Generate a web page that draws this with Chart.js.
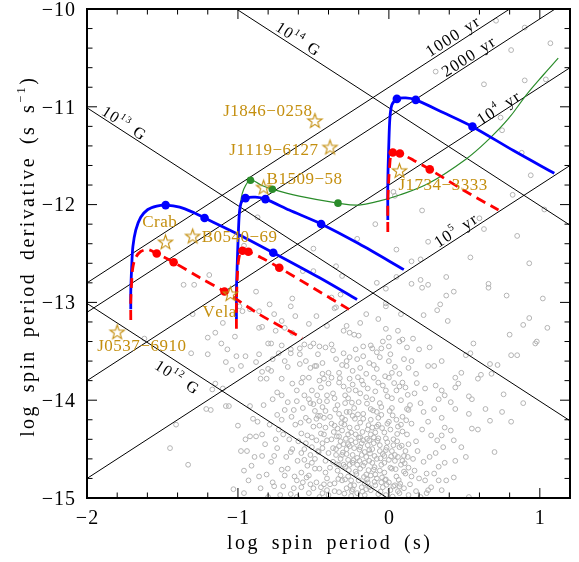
<!DOCTYPE html>
<html>
<head>
<meta charset="utf-8">
<script src="https://cdn.jsdelivr.net/npm/chart.js@4.4.1/dist/chart.umd.min.js"></script>
<style>
  html, body { margin: 0; padding: 0; background: #fff; }
  canvas { display: block; }
</style>
</head>
<body>
<canvas id="ppdot" width="579" height="562"></canvas>
<script>
// axis ranges and ticks
const X_MIN = -2, X_MAX = 1.2, Y_MIN = -15, Y_MAX = -10;
const xMajorTicks = [-2, -1, 0, 1];
const xTickLabels = ['\u22122', '\u22121', '0', '1'];
const yMajorTicks = [-15, -14, -13, -12, -11, -10];
const yTickLabels = ['\u221215', '\u221214', '\u221213', '\u221212', '\u221211', '\u221210'];

// constant field and characteristic age lines
const fieldLogB = [12, 13, 14];
const ageYears = [1000, 2000, 1e4, 1e5];

// pulsar population (log P, log Pdot)
const pulsars = [
  [0.71,-10.12],[0.90,-10.19],[1.07,-10.35],[0.81,-10.42],[0.31,-10.64],[0.63,-10.77],[0.90,-10.73],[1.04,-10.72],
  [0.74,-11.11],[0.75,-11.24],[0.88,-11.47],[0.94,-11.70],[0.82,-11.90],[0.03,-11.87],[0.04,-11.91],
  [0.22,-12.06],[-0.09,-12.20],[-0.21,-12.35],[0.26,-12.38],[0.05,-12.46],[-0.50,-12.45],[0.15,-12.58],[0.21,-12.56],
  [0.54,-12.54],[0.60,-12.14],[0.63,-12.25],[0.85,-12.32],[1.03,-12.05],[0.93,-12.60],[0.38,-12.74],[0.21,-12.77],
  [0.15,-12.81],[0.26,-12.82],[0.22,-12.85],[0.66,-12.81],[0.66,-12.85],[0.43,-12.89],[0.38,-12.93],[0.78,-12.93],
  [1.02,-12.96],[-0.02,-13.01],[-0.02,-13.04],[-0.08,-12.80],[-0.02,-12.86],[0.05,-12.74],[0.34,-13.02],[0.32,-13.08],
  [0.23,-13.13],[0.39,-13.19],[0.08,-13.12],[-0.07,-13.17],[-0.02,-13.27],[-0.15,-13.12],[-0.19,-13.21],[-0.28,-13.24],
  [-0.35,-13.05],[-0.31,-12.73],[-0.35,-12.63],[-0.50,-12.68],[-0.57,-12.68],[-0.32,-12.92],[-0.38,-12.95],[-0.36,-13.06],
  [-0.48,-13.14],[-0.53,-13.22],[-0.41,-13.24],[-0.30,-13.29],[-0.26,-13.31],[-0.23,-13.33],[0.80,-13.33],[0.93,-13.16],
  [0.89,-13.23],[1.05,-13.26],[0.98,-13.40],[0.56,-13.42],[0.27,-13.46],[0.20,-13.48],[0.09,-13.38],[0.06,-13.29],
  [0.16,-13.37],[0.00,-13.36],[-0.12,-13.44],[-0.17,-13.45],[-0.11,-13.47],[-0.08,-13.51],[-0.05,-13.47],[0.01,-13.53],
  [0.51,-13.54],[0.54,-13.52],[-0.20,-13.34],[-0.59,-13.53],[-0.46,-13.45],[-0.37,-13.49],[-0.26,-13.56],
  [-1.36,-12.82],[-1.29,-12.82],[-1.19,-12.72],[-0.96,-12.42],[-0.87,-12.13],[-0.88,-12.89],[-0.99,-13.04],[-0.97,-13.09],
  [-0.92,-13.07],[-0.86,-13.09],[-0.79,-13.02],[-0.65,-13.04],[-0.64,-12.96],[-0.76,-13.12],[-0.71,-13.19],[-0.86,-13.26],
  [-0.84,-13.25],[-0.75,-13.29],[-0.69,-13.26],[-0.62,-13.14],[-0.64,-13.31],[-1.30,-13.12],[-1.10,-13.21],[-1.15,-13.31],
  [-1.02,-13.35],[-1.20,-13.36],[-1.11,-13.42],[-0.78,-13.42],[-1.62,-13.37],[-1.31,-13.52],[-1.20,-13.53],[-1.07,-13.48],
  [-1.01,-13.55],[-0.95,-13.55],[-0.86,-13.53],[-0.80,-13.42],[-0.71,-13.44],[-0.65,-13.52],[-0.73,-13.52],
  [-1.08,-13.61],[-1.04,-13.69],[-0.98,-13.65],[-0.88,-13.61],[-0.80,-13.68],[-0.78,-13.70],[-0.84,-13.71],[-0.85,-13.78],
  [-0.81,-13.78],[-0.71,-13.78],[-0.65,-13.48],[-0.67,-13.66],[-0.59,-13.63],[-0.49,-13.65],[-0.64,-13.83],[-0.58,-13.82],
  [-0.53,-13.77],[-0.46,-13.80],[-0.43,-13.78],[-1.15,-13.83],[-1.10,-13.88],[-1.17,-13.89],[-1.08,-14.06],[-1.06,-14.06],
  [-1.21,-14.09],[-1.18,-14.10],[-1.41,-14.25],[-1.45,-14.49],[-1.33,-14.66],[-0.90,-14.19],[-0.87,-14.22],[-0.84,-14.35],
  [-1.00,-14.26],[-0.92,-14.37],[-0.88,-14.37],[-0.98,-14.52],[-0.94,-14.52],[-0.84,-14.57],[-0.91,-14.67],[-0.96,-14.72],
  [-0.86,-14.78],[-0.81,-14.76],[-0.77,-14.84],[-1.03,-14.91],[-0.96,-14.95],[-0.80,-14.99],[-0.72,-14.97],[-0.65,-14.96],
  [-0.71,-14.71],[-0.69,-14.77],[-0.76,-14.57],[-0.68,-14.58],[-0.74,-14.49],[-0.64,-14.50],[-0.73,-14.30],[-0.70,-14.35],
  [-0.71,-14.20],[-0.74,-14.15],[-0.77,-13.99],[-0.71,-13.95],[-0.67,-14.02],[-0.69,-14.10],[-0.63,-14.10],[-0.57,-14.08],
  [-0.61,-14.01],[-0.53,-13.99],[-0.46,-14.01],[-0.49,-14.11],[-0.47,-14.16],[-0.43,-14.18],[-0.42,-14.11],[-0.53,-14.21],
  [-0.46,-14.26],[-0.42,-14.28],[-0.45,-14.34],[-0.51,-14.38],[-0.58,-14.34],[-0.55,-14.44],[-0.51,-14.48],[-0.44,-14.49],
  [-0.40,-14.54],[-0.52,-14.56],[-0.56,-14.61],[-0.51,-14.64],[-0.46,-14.70],[-0.42,-14.74],[-0.58,-14.74],[-0.53,-14.77],
  [-0.57,-14.84],[-0.48,-14.84],[-0.45,-14.89],[-0.41,-14.92],[-0.58,-14.89],[-0.53,-14.95],[-0.46,-14.99],[-0.61,-14.99],
  [-0.44,-14.95],[-0.41,-14.80],[-0.61,-14.82],[-0.48,-14.41],[-0.41,-14.41],[-0.41,-14.01],[-0.51,-13.90],[-0.45,-13.87],
  [-0.40,-13.83],[-0.40,-13.72],[-0.44,-13.62],[-0.47,-13.53],[-0.52,-13.45],[-0.42,-13.46],[-0.59,-13.47],[-0.69,-13.60],
  [-0.77,-13.58],
  [-0.56,-13.43],[-0.50,-13.42],[-0.38,-13.43],[0.00,-13.45],[0.07,-13.40],[0.35,-13.60],[0.81,-13.54],[0.85,-13.54],
  [0.97,-13.42],[-0.55,-13.60],[-0.48,-13.65],[-0.57,-13.77],[-0.52,-13.67],[-0.44,-13.73],[-0.38,-13.77],[-0.33,-13.72],
  [-0.28,-13.65],[-0.24,-13.70],[-0.19,-13.67],[-0.15,-13.73],[-0.10,-13.77],[-0.08,-13.68],[0.00,-13.60],[0.00,-13.77],
  [0.07,-13.73],[0.13,-13.67],[0.18,-13.73],[0.26,-13.65],[0.30,-13.65],[0.44,-13.77],[0.48,-13.72],[0.59,-13.78],
  [0.61,-13.74],[0.67,-13.63],[0.72,-13.64],[0.68,-13.73],[0.76,-13.94],[0.75,-14.12],[0.81,-14.22],[0.89,-14.03],
  [0.64,-14.09],[0.67,-14.21],[0.55,-14.29],[0.59,-14.30],[0.70,-14.53],[0.51,-14.58],[0.44,-14.62],[0.48,-14.48],
  [0.43,-14.41],[0.53,-14.14],[0.44,-14.09],[0.41,-14.02],[0.53,-13.96],[0.55,-13.99],[0.44,-13.87],[0.46,-13.83],
  [0.35,-13.90],[0.37,-13.95],[0.31,-13.85],[0.33,-13.99],[0.30,-14.09],[0.35,-14.18],[0.37,-14.28],[0.41,-14.31],
  [0.35,-14.36],[0.32,-14.41],[0.36,-14.48],[0.31,-14.54],[0.37,-14.64],[0.33,-14.68],[0.30,-14.75],[0.33,-14.82],
  [0.38,-14.82],[0.43,-14.79],[0.25,-14.75],[0.24,-14.82],[0.28,-14.89],[0.25,-14.95],[0.35,-14.92],[0.53,-14.99],
  [0.21,-14.99],
  [-0.37,-13.93],[-0.34,-14.05],[-0.30,-13.86],[-0.27,-13.98],[-0.26,-14.12],[-0.22,-13.90],[-0.20,-14.02],[-0.17,-13.84],
  [-0.15,-13.97],[-0.12,-14.09],[-0.09,-13.91],[-0.06,-14.03],[-0.04,-13.85],[-0.01,-13.96],[0.02,-14.08],[0.05,-13.90],
  [0.08,-14.00],[0.11,-13.87],[0.14,-14.05],[0.17,-13.93],[0.21,-14.03],[0.24,-13.88],
  [-0.39,-14.17],[-0.36,-14.26],[-0.33,-14.14],[-0.31,-14.31],[-0.29,-14.20],[-0.26,-14.28],[-0.24,-14.16],[-0.22,-14.35],
  [-0.19,-14.23],[-0.17,-14.14],[-0.14,-14.30],[-0.12,-14.20],[-0.10,-14.38],[-0.07,-14.25],[-0.05,-14.15],[-0.03,-14.33],
  [0.00,-14.22],[0.03,-14.40],[0.06,-14.27],[0.09,-14.17],[0.12,-14.35],[0.15,-14.24],[0.18,-14.42],[0.22,-14.30],[0.26,-14.22],
  [-0.38,-14.40],[-0.35,-14.50],[-0.33,-14.37],[-0.30,-14.45],[-0.28,-14.55],[-0.25,-14.41],[-0.23,-14.49],[-0.21,-14.59],
  [-0.18,-14.44],[-0.16,-14.53],[-0.13,-14.41],[-0.11,-14.50],[-0.08,-14.60],[-0.06,-14.46],[-0.04,-14.55],[-0.01,-14.43],
  [0.02,-14.52],[0.04,-14.62],[0.07,-14.48],[0.10,-14.57],[0.13,-14.45],[0.16,-14.60],[0.19,-14.52],[0.23,-14.63],
  [-0.37,-14.63],[-0.34,-14.72],[-0.32,-14.60],[-0.29,-14.68],[-0.27,-14.78],[-0.24,-14.64],[-0.22,-14.73],[-0.20,-14.82],
  [-0.17,-14.67],[-0.15,-14.76],[-0.13,-14.62],[-0.10,-14.71],[-0.08,-14.80],[-0.05,-14.66],[-0.03,-14.74],[0.00,-14.84],
  [0.02,-14.70],[0.05,-14.78],[0.08,-14.66],[0.11,-14.75],[0.14,-14.86],[0.17,-14.72],[0.20,-14.80],
  [-0.36,-14.85],[-0.33,-14.94],[-0.31,-14.82],[-0.28,-14.90],[-0.25,-14.98],[-0.23,-14.87],[-0.21,-14.95],[-0.18,-14.89],
  [-0.16,-14.97],[-0.14,-14.84],[-0.12,-14.92],[-0.09,-14.87],[-0.07,-14.96],[-0.04,-14.89],[-0.02,-14.97],[0.01,-14.92],
  [0.04,-14.87],[0.07,-14.95],[0.10,-14.90],[0.13,-14.97],[0.18,-14.93],
  [-0.32,-14.42],[-0.27,-14.35],[-0.19,-14.38],[-0.14,-14.46],[-0.09,-14.33],[-0.02,-14.39],[-0.24,-14.56],[-0.11,-14.64],
  [-0.30,-14.66],[-0.06,-14.72],[-0.19,-14.70],[-0.15,-14.58],[-0.26,-14.47],[-0.35,-14.56],[-0.21,-14.28],[-0.28,-14.12],
  [-0.08,-14.12],[0.01,-14.30],[0.06,-14.58],[-0.03,-14.64],[-0.16,-14.85],[-0.25,-14.82],
  [-0.35,-13.58],[-0.31,-13.64],[-0.26,-13.78],[-0.21,-13.58],[-0.13,-13.62],[-0.06,-13.56],[0.04,-13.66],[0.10,-13.58],
  [-0.18,-13.80],[0.09,-13.82],[0.15,-13.60],[-0.30,-13.52],[-0.22,-13.48],[-0.04,-13.40],[0.12,-13.46],
  [-0.355,-14.095],[-0.315,-14.235],[-0.285,-14.395],[-0.245,-14.025],[-0.205,-14.145],[-0.175,-14.325],[-0.135,-14.255],
  [-0.105,-14.105],[-0.075,-14.415],[-0.045,-14.285],[-0.015,-14.485],[0.025,-14.155],[0.055,-14.345],[0.085,-14.465],
  [0.115,-14.205],[-0.345,-14.655],[-0.305,-14.535],[-0.265,-14.715],[-0.235,-14.615],[-0.195,-14.505],[-0.165,-14.785],
  [-0.125,-14.545],[-0.095,-14.685],[-0.055,-14.595],[-0.025,-14.815],[0.015,-14.575],[0.045,-14.705],[0.075,-14.855],
  [0.105,-14.645],[-0.335,-14.805],[-0.295,-14.955],[-0.255,-14.875],[-0.215,-14.755],[-0.175,-14.935],[-0.135,-14.715],
  [-0.095,-14.835],[-0.055,-14.935],[-0.015,-14.865],[0.025,-14.985],[0.065,-14.815],[-0.42,-14.62],[-0.43,-14.35],
  [-0.44,-14.07],[-0.41,-13.95],[-0.39,-14.86],[-0.40,-14.97],[0.27,-14.58],[0.28,-14.36],[0.23,-14.12],[0.26,-14.92],
  [-0.265,-13.895],[-0.205,-13.765],[-0.145,-14.035],[-0.025,-13.755],[0.035,-13.825],[0.125,-13.945],[0.185,-13.825],
  [-0.325,-13.775],[-0.365,-14.325],[-0.145,-14.395],
  [-0.55,-14.18],[-0.50,-14.27],[-0.56,-14.50],[-0.49,-14.60],[-0.54,-14.67],[-0.50,-14.90],[-0.60,-14.42],[-0.62,-14.25],
  [-0.66,-14.40],[-0.67,-14.70],[-0.70,-14.88],[-0.63,-14.90],
  [-0.52,-14.03],[-0.48,-14.19],[-0.44,-14.44],[-0.39,-14.69],[-0.36,-14.93],[-0.33,-14.47],[-0.31,-14.18],[-0.29,-14.03],
  [-0.27,-14.61],[-0.25,-14.33],[-0.23,-14.08],[-0.21,-14.66],[-0.19,-14.48],[-0.17,-14.19],[-0.15,-14.91],[-0.13,-14.51],
  [-0.11,-14.28],[-0.09,-14.76],[-0.07,-14.39],[-0.05,-14.07],[-0.03,-14.57],[-0.01,-14.24],[0.01,-14.69],[0.03,-14.46],
  [0.05,-14.20],[0.07,-14.88],[0.09,-14.32],[0.11,-14.52],[0.13,-14.10],[0.15,-14.78],
  [-0.54,-14.36],[-0.47,-14.52],[-0.43,-14.86],[-0.38,-14.24],[-0.345,-14.37],[-0.32,-14.77],[-0.295,-14.25],[-0.27,-14.45],
  [-0.245,-14.93],[-0.225,-14.19],[-0.195,-14.62],[-0.17,-14.41],[-0.145,-14.81],[-0.12,-14.35],[-0.095,-14.57],[-0.07,-14.18],
  [-0.045,-14.79],[-0.02,-14.51],[0.005,-14.11],[0.03,-14.88],[0.055,-14.42],[0.08,-14.25],[0.10,-14.73],[0.125,-14.58],
  [-0.58,-14.54],[-0.545,-14.79],[-0.52,-14.86],[-0.49,-14.70],[-0.465,-14.53],[-0.455,-14.16],[-0.475,-13.95],[-0.50,-14.04],
  [-0.585,-14.23],[-0.605,-14.62],[-0.625,-14.78],[-0.65,-14.53],[-0.645,-14.17],[-0.61,-13.90],[-0.56,-13.95],
  [-0.36,-13.98],[-0.33,-13.82],[-0.29,-13.95],[-0.24,-13.84],[-0.19,-13.93],[-0.14,-13.88],[-0.11,-13.99],[-0.07,-13.82],
  [-0.02,-13.90],[0.02,-13.98],[0.07,-13.86],[0.12,-14.09],[-0.28,-13.60],[-0.17,-13.55],[-0.10,-13.64],[0.02,-13.72],
  [-0.31,-14.56],[-0.26,-14.66],[-0.22,-14.43],[-0.18,-14.56],[-0.12,-14.77],[-0.06,-14.52],[-0.02,-14.81],[0.04,-14.56],
  [-0.34,-14.29],[-0.29,-14.81],[-0.24,-14.91],[-0.20,-14.38],[-0.16,-14.64],[-0.10,-14.44],[-0.05,-14.84],[0.00,-14.61],
  [0.06,-14.93],[0.09,-14.62],[-0.37,-14.49],[-0.33,-14.66],[-0.28,-14.50],[-0.13,-14.89],[-0.08,-14.27],[0.13,-14.69],
  [-0.75,-14.40],[-0.78,-14.63],[-0.82,-14.45],[-0.79,-14.25],[-0.83,-14.05],[-0.76,-14.88],[-0.85,-14.90],[-0.93,-14.82],
  [-0.89,-14.58],[-0.95,-14.40],[-0.74,-13.92],[-0.92,-14.06]
];

// evolutionary tracks (log P, log Pdot)
const track1Blue = [[-1.710,-13.07],[-1.710,-12.89],[-1.704,-12.64],[-1.696,-12.43],[-1.677,-12.26],[-1.644,-12.13],[-1.597,-12.05],[-1.538,-12.015],[-1.479,-12.005],[-1.386,-12.025],[-1.287,-12.086],[-1.221,-12.137],[-0.990,-12.31],[-0.766,-12.492],[-0.462,-12.746],[-0.211,-12.97]];
const track1BlueDots = [[-1.479,-12.005],[-1.221,-12.137],[-0.766,-12.492]];
const track1Red = [[-1.710,-13.18],[-1.710,-12.99],[-1.704,-12.79],[-1.696,-12.64],[-1.677,-12.54],[-1.644,-12.48],[-1.597,-12.46],[-1.538,-12.50],[-1.426,-12.59],[-1.254,-12.746],[-1.089,-12.888],[-0.858,-13.122],[-0.574,-13.365]];
const track1RedDots = [[-1.538,-12.50],[-1.426,-12.59],[-1.089,-12.888]];

const track2Blue = [[-1.010,-13.17],[-1.010,-12.89],[-1.004,-12.58],[-0.997,-12.28],[-0.990,-12.08],[-0.977,-11.975],[-0.950,-11.934],[-0.884,-11.924],[-0.818,-11.944],[-0.660,-12.056],[-0.449,-12.198],[-0.198,-12.401],[0.099,-12.665]];
const track2BlueDots = [[-0.950,-11.934],[-0.818,-11.944],[-0.449,-12.198]];
const track2Red = [[-1.010,-13.27],[-1.010,-12.99],[-1.004,-12.74],[-0.997,-12.58],[-0.984,-12.49],[-0.970,-12.472],[-0.931,-12.482],[-0.845,-12.543],[-0.726,-12.645],[-0.495,-12.858],[-0.264,-13.071]];
const track2RedDots = [[-0.970,-12.472],[-0.931,-12.482],[-0.726,-12.645]];

const track3Blue = [[-0.007,-12.157],[-0.007,-11.772],[0.000,-11.365],[0.007,-11.112],[0.020,-10.98],[0.053,-10.919],[0.112,-10.909],[0.178,-10.929],[0.363,-11.061],[0.554,-11.203],[0.825,-11.447],[1.096,-11.68]];
const track3BlueDots = [[0.053,-10.919],[0.178,-10.929],[0.554,-11.203]];
const track3Red = [[-0.007,-12.279],[-0.007,-11.975],[0.000,-11.721],[0.007,-11.569],[0.013,-11.497],[0.026,-11.467],[0.073,-11.477],[0.165,-11.548],[0.271,-11.640],[0.495,-11.853],[0.726,-12.056]];
const track3RedDots = [[0.026,-11.467],[0.073,-11.477],[0.271,-11.640]];

const greenTrack = [[-0.983,-11.975],[-0.964,-11.853],[-0.917,-11.751],[-0.845,-11.802],[-0.772,-11.843],[-0.594,-11.914],[-0.337,-11.985],[-0.198,-12.005],[-0.066,-11.964],[0.066,-11.904],[0.264,-11.782],[0.508,-11.538],[0.660,-11.335],[0.792,-11.122],[0.911,-10.878],[1.023,-10.675],[1.122,-10.503]];
const greenDots = [[-0.917,-11.751],[-0.772,-11.843],[-0.337,-11.985]];

// named pulsars (stars)
const starNames = ['J1846\u22120258', 'J1119\u22126127', 'B1509\u221258', 'Crab', 'B0540\u221269', 'Vela', 'J0537\u22126910', 'J1734\u22123333'];
const starLogP = [-0.49, -0.39, -0.83, -1.48, -1.30, -1.05, -1.80, 0.07];
const starLogPdot = [-11.14, -11.41, -11.82, -12.38, -12.32, -12.91, -13.30, -11.65];

// ---------- helpers ----------
const FONT = '"Liberation Serif", "Times New Roman", serif';
const GOLD = '#c48f0f';
const BLUE = '#0000ff';
const RED = '#ff0000';
const GREEN = '#2a8c2a';

const pts = arr => arr.map(p => ({ x: p[0], y: p[1] }));
const fieldLine = (logB, logP) => 2 * logB - 2 * Math.log10(3.2e19) - logP;
const ageLine = (yr, logP) => logP - Math.log10(2 * yr * 3.156e7);

function starImage(r, color) {
  const s = Math.ceil(2 * r + 4);
  const c = document.createElement('canvas');
  c.width = s; c.height = s;
  const g = c.getContext('2d');
  g.strokeStyle = color; g.lineWidth = 1.1;
  g.beginPath();
  for (let i = 0; i < 10; i++) {
    const rr = i % 2 ? r * 0.4 : r;
    const a = -Math.PI / 2 + i * Math.PI / 5;
    const px = s / 2 + rr * Math.cos(a), py = s / 2 + 0.8 + rr * Math.sin(a);
    if (i) g.lineTo(px, py); else g.moveTo(px, py);
  }
  g.closePath(); g.stroke();
  return c;
}

// draws text built from parts [{t, sup}], centred on (x, y) unless align says otherwise
function drawParts(ctx, parts, x, y, o) {
  const size = o.size, sp = o.spacing || 0, ws = o.wordSpacing || 0;
  ctx.save();
  ctx.translate(x, y);
  ctx.rotate(o.angle || 0);
  ctx.fillStyle = o.color || '#000';
  ctx.textAlign = 'left';
  ctx.textBaseline = 'alphabetic';
  const runs = [];
  let w = 0;
  parts.forEach(p => {
    const fs = p.sup ? size * 0.62 : size;
    ctx.font = fs + 'px ' + FONT;
    for (const ch of p.t) {
      runs.push({ ch, fs, x: w, dy: p.sup ? -size * 0.45 : 0 });
      w += ctx.measureText(ch).width + sp + (ch === ' ' ? ws : 0);
    }
  });
  w -= sp;
  const align = o.align || 'center';
  const x0 = align === 'center' ? -w / 2 : align === 'right' ? -w : 0;
  const base = size * 0.34;
  runs.forEach(r => {
    ctx.font = r.fs + 'px ' + FONT;
    ctx.fillText(r.ch, x0 + r.x, base + r.dy);
  });
  ctx.restore();
}

// ---------- datasets ----------
const lineStyle = { showLine: true, pointRadius: 0, borderColor: '#000', borderWidth: 1, order: 40 };
const datasets = [];

datasets.push({
  data: pts(pulsars), pointStyle: 'circle', pointRadius: 2.4, borderWidth: 1,
  borderColor: '#b3b3b3', backgroundColor: 'rgba(0,0,0,0)', order: 50
});
fieldLogB.forEach(b => datasets.push(Object.assign({
  data: [{ x: X_MIN, y: fieldLine(b, X_MIN) }, { x: X_MAX, y: fieldLine(b, X_MAX) }]
}, lineStyle)));
ageYears.forEach(a => datasets.push(Object.assign({
  data: [{ x: X_MIN, y: ageLine(a, X_MIN) }, { x: X_MAX, y: ageLine(a, X_MAX) }]
}, lineStyle)));

datasets.push({ data: pts(greenTrack), showLine: true, pointRadius: 0, borderColor: GREEN, borderWidth: 1.2, tension: 0.4, order: 30 });
datasets.push({ data: pts(greenDots), pointRadius: 3.8, borderWidth: 0, backgroundColor: GREEN, order: 12 });

[track1Blue, track2Blue, track3Blue].forEach(t => datasets.push({
  data: pts(t), showLine: true, pointRadius: 0, borderColor: BLUE, borderWidth: 2.8, tension: 0.3, order: 20
}));
[track1Red, track2Red, track3Red].forEach(t => datasets.push({
  data: pts(t), showLine: true, pointRadius: 0, borderColor: RED, borderWidth: 2.8, borderDash: [10, 6], tension: 0.3, order: 15
}));
[track1BlueDots, track2BlueDots, track3BlueDots].forEach(t => datasets.push({
  data: pts(t), pointRadius: 4.3, borderWidth: 0, backgroundColor: BLUE, order: 10
}));
[track1RedDots, track2RedDots, track3RedDots].forEach(t => datasets.push({
  data: pts(t), pointRadius: 4.3, borderWidth: 0, backgroundColor: RED, order: 9
}));

datasets.push({
  data: starLogP.map((v, i) => ({ x: v, y: starLogPdot[i] })),
  pointStyle: starImage(7.5, GOLD), pointRadius: 8, order: 0
});

// ---------- decorations: frame, ticks, labels ----------
const fieldLabelPos = [{ x: -1.404, dy: 15 }, { x: -1.755, dy: -9 }, { x: -0.602, dy: -10.5 }];
const ageLabelPos = [{ x: 0.42, dy: -10 }, { x: 0.525, dy: -9 }, { x: 0.724, dy: -6.5 }, { x: 0.44, dy: -9.5 }];
const ageLabelParts = [
  [{ t: '1000 yr' }], [{ t: '2000 yr' }],
  [{ t: '10' }, { t: '4', sup: true }, { t: ' yr' }],
  [{ t: '10' }, { t: '5', sup: true }, { t: ' yr' }]
];
const starLabelPos = [
  { dx: -3, dy: -10, align: 'right' }, { dx: -12, dy: 2, align: 'right' }, { dx: 3, dy: -9, align: 'left' },
  { dx: -6, dy: -21, align: 'center' }, { dx: 9, dy: 0, align: 'left' }, { dx: -11, dy: 18, align: 'center' },
  { dx: -20, dy: 13, align: 'left' }, { dx: -1, dy: 14, align: 'left' }
];

const decor = {
  id: 'decor',
  afterDatasetsDraw(chart) {
    const { ctx, chartArea: a, scales: { x, y } } = chart;
    ctx.save();
    ctx.strokeStyle = '#000';
    ctx.lineWidth = 1;
    const seg = (x1, y1, x2, y2) => { ctx.beginPath(); ctx.moveTo(x1, y1); ctx.lineTo(x2, y2); ctx.stroke(); };

    for (let k = 0; k <= 16; k++) {
      const v = X_MIN + k * 0.2;
      const px = x.getPixelForValue(v);
      const L = k % 5 === 0 ? 10 : 5.5;
      seg(px, a.bottom, px, a.bottom - L);
      seg(px, a.top, px, a.top + L);
    }
    for (let k = 0; k <= 25; k++) {
      const v = Y_MIN + k * 0.2;
      const py = y.getPixelForValue(v);
      const L = k % 5 === 0 ? 10 : 5.5;
      seg(a.left, py, a.left + L, py);
      seg(a.right, py, a.right - L, py);
    }
    ctx.lineWidth = 2;
    ctx.strokeRect(a.left, a.top, a.right - a.left, a.bottom - a.top);

    // tick labels
    xMajorTicks.forEach((v, i) => drawParts(ctx, [{ t: xTickLabels[i] }], x.getPixelForValue(v), 517, { size: 20, spacing: 1 }));
    yMajorTicks.forEach((v, i) => drawParts(ctx, [{ t: yTickLabels[i] }], 75, y.getPixelForValue(v), { size: 20, spacing: 1, align: 'right' }));

    // axis titles
    drawParts(ctx, [{ t: 'log spin period (s)' }], (a.left + a.right) / 2, 542, { size: 20, spacing: 2.4, wordSpacing: 4.5 });
    drawParts(ctx, [{ t: 'log spin period derivative (s s' }, { t: '\u22121', sup: true }, { t: ')' }],
      27, (a.top + a.bottom) / 2 + 4, { size: 20, spacing: 2.4, wordSpacing: 4.5, angle: -Math.PI / 2 });

    // line labels
    fieldLogB.forEach((b, i) => {
      const p = fieldLabelPos[i];
      const x1 = x.getPixelForValue(X_MIN), y1 = y.getPixelForValue(fieldLine(b, X_MIN));
      const x2 = x.getPixelForValue(X_MAX), y2 = y.getPixelForValue(fieldLine(b, X_MAX));
      const ang = Math.atan2(y2 - y1, x2 - x1);
      drawParts(ctx, [{ t: '10' }, { t: String(b), sup: true }, { t: ' G' }],
        x.getPixelForValue(p.x), y.getPixelForValue(fieldLine(b, p.x)) + p.dy,
        { size: 16, spacing: 1.2, wordSpacing: 1.5, angle: ang });
    });
    ageYears.forEach((yr, i) => {
      const p = ageLabelPos[i];
      const x1 = x.getPixelForValue(X_MIN), y1 = y.getPixelForValue(ageLine(yr, X_MIN));
      const x2 = x.getPixelForValue(X_MAX), y2 = y.getPixelForValue(ageLine(yr, X_MAX));
      const ang = Math.atan2(y2 - y1, x2 - x1);
      drawParts(ctx, ageLabelParts[i], x.getPixelForValue(p.x), y.getPixelForValue(ageLine(yr, p.x)) + p.dy,
        { size: 16.5, spacing: 1.2, wordSpacing: 2, angle: ang });
    });

    // star labels
    starNames.forEach((name, i) => {
      const p = starLabelPos[i];
      drawParts(ctx, [{ t: name }], x.getPixelForValue(starLogP[i]) + p.dx, y.getPixelForValue(starLogPdot[i]) + p.dy,
        { size: 17, spacing: 0.5, align: p.align, color: GOLD });
    });
    ctx.restore();
  }
};

new Chart(document.getElementById('ppdot'), {
  type: 'scatter',
  data: { datasets },
  options: {
    responsive: false,
    animation: false,
    events: [],
    layout: { padding: { left: 87, right: 9, top: 5, bottom: 64 } },
    scales: {
      x: { type: 'linear', min: X_MIN, max: X_MAX, display: false },
      y: { type: 'linear', min: Y_MIN, max: Y_MAX, display: false }
    },
    plugins: { legend: { display: false }, tooltip: { enabled: false } }
  },
  plugins: [decor]
});
</script>
</body>
</html>
